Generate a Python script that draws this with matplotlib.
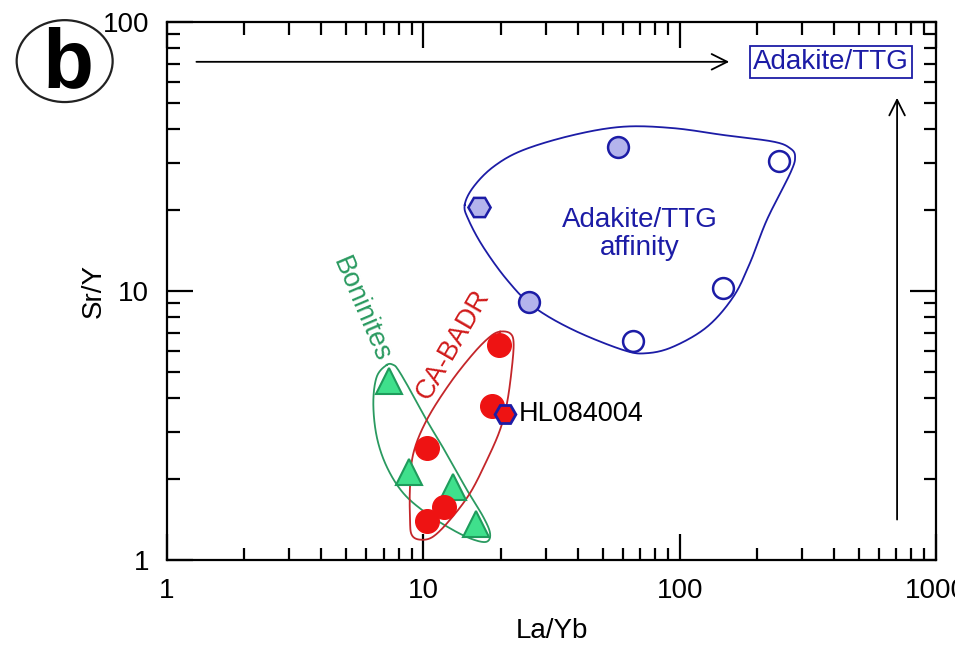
import numpy as np
import matplotlib
matplotlib.use('Agg')
import matplotlib.pyplot as plt
from matplotlib import ticker
from matplotlib.patches import Ellipse

plt.rcParams['font.family'] = ['Liberation Sans', 'DejaVu Sans']

# data (La/Yb, Sr/Y)
badr_x = [19.7, 18.6, 10.3, 12.0, 10.3]
badr_y = [6.3, 3.75, 2.6, 1.57, 1.40]

bon_x = [7.35, 8.8, 13.1, 16.1]
bon_y = [4.63, 2.13, 1.87, 1.36]

hl_x = [20.9]
hl_y = [3.49]

ttg_fill_x = [57.4, 25.9]
ttg_fill_y = [34.4, 9.13]
ttg_hex_x = [16.5]
ttg_hex_y = [20.6]
ttg_open_x = [243, 147, 66]
ttg_open_y = [30.3, 10.3, 6.52]

# field outlines
env_ttg_x = [14.5, 15.7, 18.8, 24.5, 38.5, 60.3, 94.5, 148, 232, 270, 282, 270,
             219, 188, 162, 128, 94.5, 74.4, 60.3, 38.5, 26.9, 21.2, 17.1, 15.0]
env_ttg_y = [20.9, 24.4, 29.0, 33.4, 38.0, 40.8, 40.3, 38.0, 35.9, 33.9, 31.5, 27.4,
             18.4, 12.7, 9.52, 7.36, 6.21, 5.87, 6.03, 7.16, 8.74, 11.0, 14.6, 18.4]
env_bon_x = [7.20, 6.58, 6.38, 6.58, 7.20, 8.36, 10.3, 13.1, 15.7, 17.7, 18.2,
             17.1, 14.8, 12.3, 10.3, 8.87, 7.99, 7.64]
env_bon_y = [5.31, 4.80, 3.83, 2.87, 2.22, 1.77, 1.49, 1.29, 1.19, 1.17, 1.26,
             1.45, 1.82, 2.49, 3.31, 4.29, 5.08, 5.31]
env_badr_x = [19.9, 21.8, 22.5, 22.1, 21.2, 19.9, 17.7, 15.2, 12.7, 10.9, 9.70,
              9.01, 8.87, 8.87, 9.14, 10.3, 12.7, 15.7, 18.2]
env_badr_y = [7.06, 6.96, 6.40, 5.08, 3.83, 3.04, 2.35, 1.77, 1.41, 1.22, 1.19,
              1.24, 1.41, 1.87, 2.49, 3.31, 4.54, 5.87, 6.76]

blue = '#1c1ca6'
blue_fill = '#b4b4ec'
red = '#ee1313'
red_line = '#c4262a'
green_fill = '#3fe08c'
green_edge = '#1e9c5c'
green_line = '#2a9a60'


def smooth_closed(xs, ys, n=24):
    # closed Catmull-Rom curve in log space
    P = np.column_stack([np.log10(xs), np.log10(ys)])
    m = len(P)
    t = np.linspace(0, 1, n, endpoint=False)[:, None]
    segs = []
    for i in range(m):
        p0, p1, p2, p3 = P[(i - 1) % m], P[i], P[(i + 1) % m], P[(i + 2) % m]
        seg = 0.5 * (2 * p1 + (-p0 + p2) * t + (2 * p0 - 5 * p1 + 4 * p2 - p3) * t ** 2
                     + (-p0 + 3 * p1 - 3 * p2 + p3) * t ** 3)
        segs.append(seg)
    segs.append(P[:1])
    out = np.vstack(segs)
    return 10 ** out[:, 0], 10 ** out[:, 1]


fig = plt.figure(figsize=(9.55, 6.5), dpi=100)
ax = fig.add_axes([0.1749, 0.1385, 0.8052, 0.8277])
ax.set_xscale('log')
ax.set_yscale('log')
ax.set_xlim(1, 1000)
ax.set_ylim(1, 100)

# envelopes
for ex, ey, c in [(env_ttg_x, env_ttg_y, blue), (env_bon_x, env_bon_y, green_line),
                  (env_badr_x, env_badr_y, red_line)]:
    sx, sy = smooth_closed(ex, ey)
    ax.plot(sx, sy, color=c, lw=1.3, zorder=2)

# points
ax.plot(ttg_fill_x, ttg_fill_y, 'o', ms=15, mfc=blue_fill, mec=blue, mew=1.8, zorder=4)
ax.plot(ttg_hex_x, ttg_hex_y, 'H', ms=16, mfc=blue_fill, mec=blue, mew=1.8, zorder=4)
ax.plot(ttg_open_x, ttg_open_y, 'o', ms=15, mfc='white', mec=blue, mew=1.8, zorder=4)
ax.plot(bon_x, bon_y, '^', ms=19, mfc=green_fill, mec=green_edge, mew=1.5, zorder=4)
ax.plot(badr_x, badr_y, 'o', ms=17, mfc=red, mec=red, mew=1, zorder=5)
ax.plot(hl_x, hl_y, 'H', ms=15, mfc=red, mec=blue, mew=2, zorder=6)

# text
ax.text(70, 16.3, 'Adakite/TTG\naffinity', color=blue, fontsize=20, ha='center',
        va='center', linespacing=1.1)
ax.text(23.5, 3.49, 'HL084004', color='black', fontsize=19.5, ha='left', va='center')
ax.text(5.71, 8.5, 'Boninites', color=green_line, fontsize=19.5, rotation=-67,
        ha='center', va='center', rotation_mode='anchor')
ax.text(13.1, 6.3, 'CA-BADR', color='#d01a1a', fontsize=19.5, rotation=60,
        ha='center', va='center', rotation_mode='anchor')
ax.text(390, 71.0, 'Adakite/TTG', color=blue, fontsize=20, ha='center', va='center',
        bbox=dict(boxstyle='square,pad=0.12', fc='white', ec=blue, lw=1.3))

# arrows
ax.annotate('', xy=(160, 71.1), xytext=(1.27, 71.1),
            arrowprops=dict(arrowstyle='->', lw=1.3, color='black', mutation_scale=28))
ax.annotate('', xy=(705, 53.5), xytext=(705, 1.38),
            arrowprops=dict(arrowstyle='->', lw=1.3, color='black', mutation_scale=28))

# axes styling
fmt = ticker.FuncFormatter(lambda v, p: f'{v:g}')
ax.xaxis.set_major_formatter(fmt)
ax.yaxis.set_major_formatter(fmt)
ax.xaxis.set_minor_formatter(ticker.NullFormatter())
ax.yaxis.set_minor_formatter(ticker.NullFormatter())
ax.tick_params(which='both', direction='in', top=True, right=True, width=1.6,
               labelsize=20)
ax.tick_params(which='major', length=19, pad=13)
ax.tick_params(which='minor', length=9)
for s in ax.spines.values():
    s.set_linewidth(1.6)

ax.set_xlabel('La/Yb', fontsize=20)
ax.set_ylabel('Sr/Y', fontsize=20)
ax.xaxis.set_label_coords(0.5, -0.108)
ax.yaxis.set_label_coords(-0.078, 0.5)

# panel label
fig.patches.append(Ellipse((0.0677, 0.906), 0.1005, 0.126, transform=fig.transFigure,
                           fill=False, ec='#222222', lw=1.6))
fig.text(0.0712, 0.9, 'b', fontsize=60, fontweight='bold', ha='center', va='center')

fig.savefig('out.png', dpi=100)
